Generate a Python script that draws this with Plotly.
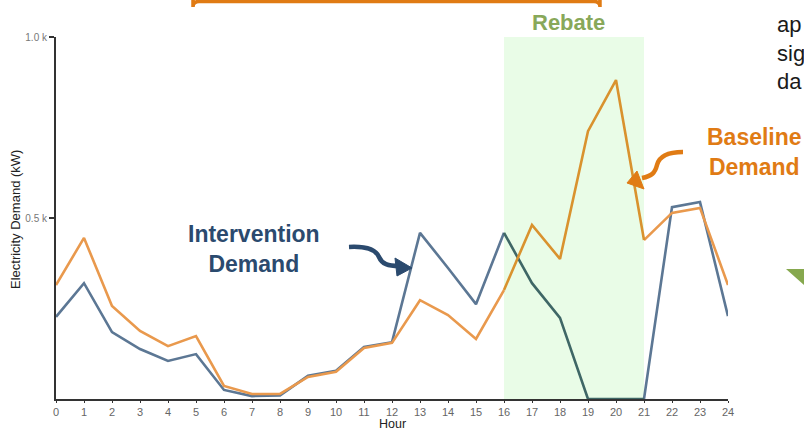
import numpy as np
import plotly.graph_objects as go

# Hourly electricity demand (kW)
hours = list(range(25))
baseline = [315, 445, 257, 188, 146, 174, 36, 14, 14, 61, 75, 141, 155, 273, 232, 166,
            301, 481, 387, 740, 881, 439, 514, 528, 315]
intervention = [227, 320, 185, 138, 105, 124, 25, 8, 10, 64, 78, 144, 157, 459, 362, 262,
                459, 320, 224, 0, 0, 0, 530, 544, 229]

rebate_start, rebate_end = 16, 21
y_tickvals = [500, 1000]
y_ticktext = ["0.5 k", "1.0 k"]

FONT = "Liberation Sans, Arial, Helvetica, sans-serif"
W, H = 804, 432
L, R, T, B = 56, 76, 37, 33
PW, PH = W - L - R, H - T - B


def px(x):
    return (x - L) / PW


def py(y):
    return (H - B - y) / PH


def path(cmds):
    """Build an SVG path in paper units from pixel-space commands."""
    out = []
    for c in cmds:
        if isinstance(c, str):
            out.append(c)
        else:
            out.append(f"{px(c[0]):.5f},{py(c[1]):.5f}")
    return " ".join(out)


h = np.array(hours)
inside = (h >= rebate_start) & (h <= rebate_end)
outside = (h <= rebate_start) | (h >= rebate_end)


def masked(vals, mask):
    return [v if m else None for v, m in zip(vals, mask)]


fig = go.Figure()

series = [
    ("Intervention", intervention, "#5c7794", "#3f6766"),
    ("Baseline", baseline, "#e9994d", "#d9922e"),
]
for name, vals, col_out, col_in in series:
    fig.add_trace(go.Scatter(x=hours, y=masked(vals, outside), mode="lines", name=name,
                             line=dict(color=col_out, width=2.6), connectgaps=False,
                             showlegend=False, hoverinfo="x+y"))
    fig.add_trace(go.Scatter(x=hours, y=masked(vals, inside), mode="lines", name=name,
                             line=dict(color=col_in, width=2.6), connectgaps=False,
                             showlegend=False, hoverinfo="x+y"))

shapes = [
    # rebate window
    dict(type="rect", xref="x", yref="y", x0=rebate_start, x1=rebate_end, y0=0, y1=1000,
         fillcolor="#e9fce7", line=dict(width=0), layer="below"),
    # orange frame at the top
    dict(type="path", xref="paper", yref="paper",
         path=path(["M", (193, -30), "L", (193, 7), "Q", (193, 1.5), (199, 1.5),
                    "L", (594, 1.5), "Q", (600, 1.5), (600, 7), "L", (600, -30)]),
         line=dict(color="#e07b14", width=3.5)),
    # navy curved arrow
    dict(type="path", xref="paper", yref="paper",
         path=path(["M", (349, 247), "C", (368, 246), (376, 250), (379, 257),
                    "S", (388, 266), (399, 266)]),
         line=dict(color="#2b4a6e", width=4.5)),
    dict(type="path", xref="paper", yref="paper",
         path=path(["M", (395, 258), "L", (397, 276), "L", (412, 268), "Z"]),
         fillcolor="#2b4a6e", line=dict(color="#2b4a6e", width=1)),
    # orange curved arrow
    dict(type="path", xref="paper", yref="paper",
         path=path(["M", (683, 152), "C", (668, 152), (659, 157), (657, 165),
                    "S", (652, 176), (642, 178)]),
         line=dict(color="#e07b14", width=4.5)),
    dict(type="path", xref="paper", yref="paper",
         path=path(["M", (637, 171), "L", (644, 189), "L", (627, 183), "Z"]),
         fillcolor="#e07b14", line=dict(color="#e07b14", width=1)),
    # green corner triangle
    dict(type="path", xref="paper", yref="paper",
         path=path(["M", (786, 269), "L", (812, 269), "L", (812, 292), "Z"]),
         fillcolor="#86a84e", line=dict(width=0)),
]

annotations = [
    dict(text="<b>Rebate</b>", x=px(568), y=py(23), font=dict(size=22, color="#88a85a")),
    dict(text="<b>Intervention<br>Demand</b>", x=px(254), y=py(249),
         font=dict(size=23, color="#2b4a6e"), align="center"),
    dict(text="<b>Baseline<br>Demand</b>", x=px(754), y=py(152),
         font=dict(size=23, color="#e07b14"), align="center"),
    dict(text="ap<br>sig<br>da", x=px(775), y=py(53), xanchor="left",
         font=dict(size=22, color="#1a1a1a"), align="left"),
    # axis titles
    dict(text="Hour", x=px(392), y=py(431.5), yanchor="bottom", borderpad=0,
         font=dict(size=12.5, color="#222")),
    dict(text="Electricity Demand (kW)", x=px(15), y=py(220), textangle=-90,
         font=dict(size=13, color="#222")),
]
for a in annotations:
    a.setdefault("xanchor", "center")
    a.setdefault("yanchor", "middle")
    a.update(xref="paper", yref="paper", showarrow=False)
    a["font"]["family"] = FONT

fig.update_layout(
    width=W, height=H, autosize=False,
    margin=dict(l=L, r=R, t=T, b=B, pad=0, autoexpand=False),
    paper_bgcolor="white", plot_bgcolor="white",
    font=dict(family=FONT, color="#333"),
    shapes=shapes, annotations=annotations,
    xaxis=dict(range=[0, 24], tickmode="array", tickvals=hours, automargin=False,
               showgrid=False, zeroline=False, showline=True, linecolor="#333", linewidth=2,
               ticks="outside", ticklen=2, tickcolor="#333", tickwidth=1,
               tickfont=dict(size=11, color="#666")),
    yaxis=dict(range=[0, 1000], tickmode="array", tickvals=y_tickvals, ticktext=y_ticktext,
               automargin=False,
               showgrid=False, zeroline=False, showline=True, linecolor="#333", linewidth=2,
               ticks="outside", ticklen=5, tickcolor="#333", tickwidth=1.5,
               tickfont=dict(size=10, color="#777")),
)

fig.write_html("out.html")
